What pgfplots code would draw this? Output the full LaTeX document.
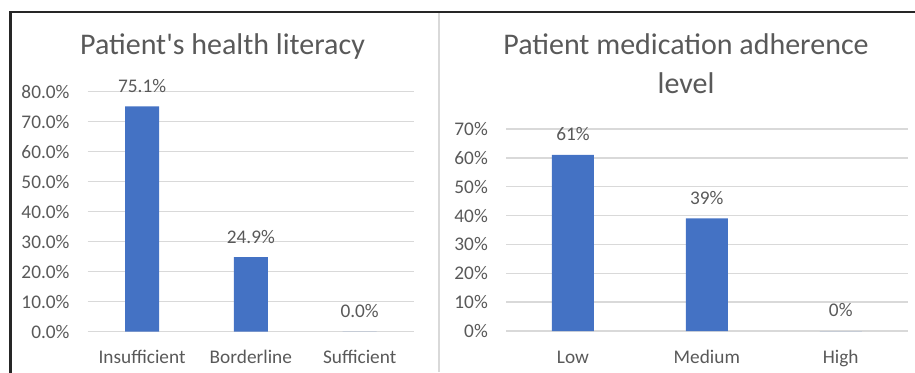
\documentclass[border=0pt]{standalone}
\usepackage{pgfplots}
\pgfplotsset{compat=1.18}
\usepackage{fontspec}
\setmainfont{Carlito}
\definecolor{barblue}{HTML}{4472C4}
\definecolor{txt}{HTML}{595959}
\definecolor{gridc}{HTML}{D9D9D9}
\definecolor{frame}{HTML}{262626}
\newcommand\lblfont{\fontsize{19.3}{23}\selectfont}
\newcommand\ttlfont{\fontsize{30}{39}\selectfont}
\pgfplotsset{
 mybar/.style={
  ybar, scale only axis, anchor=south west,
  xmin=-0.5, xmax=2.5, ymin=0,
  xtick={0,1,2},
  axis line style={draw=none},
  major tick length=0pt,
  ymajorgrids, grid style={gridc, line width=1.3pt},
  tick label style={font=\lblfont, text=txt},
  yticklabel style={anchor=east, inner sep=0pt, xshift=-18pt},
  xticklabel style={anchor=base, inner sep=0pt, yshift=-32pt},
  nodes near coords, point meta=explicit symbolic,
  every node near coord/.append style={font=\lblfont, text=txt, anchor=base, inner sep=0pt, yshift=14pt},
  clip=false,
 }
}
\begin{document}
\begin{tikzpicture}[x=1pt,y=1pt]
\useasboundingbox (0,0) rectangle (915,372);
\draw[gridc, line width=2pt] (439,0) -- (439,359);
\draw[frame, line width=2.5pt] (10.5,-20) rectangle (940,360);

\node[font=\ttlfont, text=txt, anchor=base] at (222.5,317) {Patient\textquotesingle s health literacy};
\node[font=\ttlfont, text=txt, anchor=base] at (686,317) {Patient medication adherence};
\node[font=\ttlfont, text=txt, anchor=base] at (686,278) {level};

\begin{axis}[mybar, at={(87.7pt,40.3pt)}, width=326.3pt, height=240pt,
  ymax=80, ytick={0,10,...,80},
  yticklabels={0.0\%,10.0\%,20.0\%,30.0\%,40.0\%,50.0\%,60.0\%,70.0\%,80.0\%},
  xticklabels={Insufficient,Borderline,Sufficient},
  bar width=34pt]
\addplot[fill=barblue, draw=none] coordinates {(0,75.1)[75.1\%] (1,24.9)[24.9\%] (2,0)[0.0\%]};
\end{axis}

\begin{axis}[mybar, at={(506pt,41pt)}, width=401.7pt, height=202pt,
  ymax=70, ytick={0,10,...,70},
  yticklabels={0\%,10\%,20\%,30\%,40\%,50\%,60\%,70\%},
  xticklabels={Low,Medium,High},
  bar width=42pt]
\addplot[fill=barblue, draw=none] coordinates {(0,61)[61\%] (1,39)[39\%] (2,0)[0\%]};
\end{axis}
\end{tikzpicture}
\end{document}
